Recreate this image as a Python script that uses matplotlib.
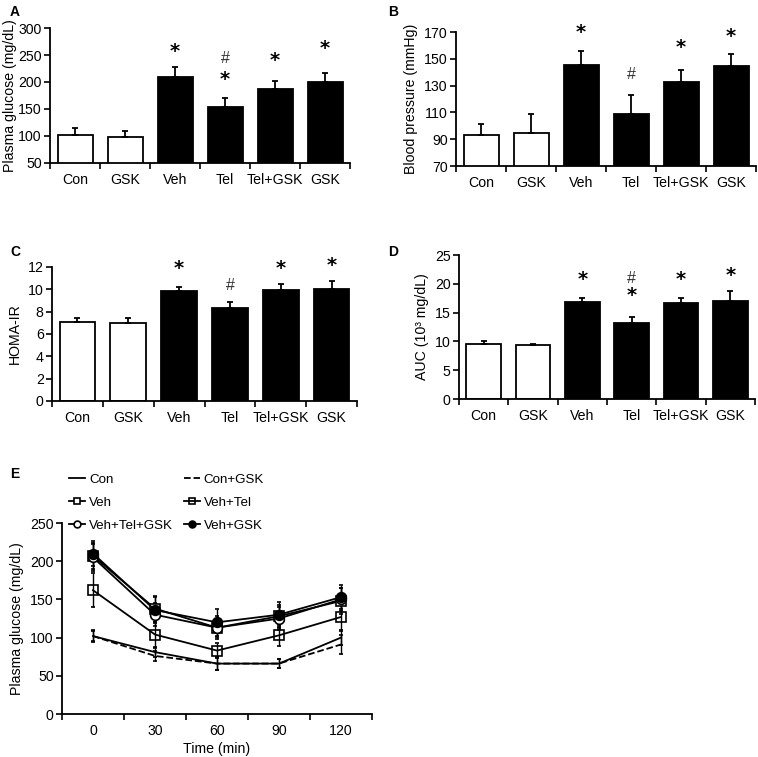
import matplotlib
matplotlib.use('Agg')
import matplotlib.pyplot as plt
import numpy as np

plt.rcParams['font.family'] = ['Liberation Sans', 'DejaVu Sans']
plt.rcParams['font.size'] = 10.2

groups = ['Con', 'GSK', 'Veh', 'Tel', 'Tel+GSK', 'GSK']
filled = [False, False, True, True, True, True]

# panel A - plasma glucose
glucose = [101, 98, 209, 153, 187, 200]
glucose_err = [13, 11, 19, 18, 14, 17]
glucose_sig = [(2, '*', 256), (3, '#', 244), (3, '*', 205), (4, '*', 240), (5, '*', 262)]

# panel B - blood pressure
bp = [93.4, 94.9, 145.1, 109.0, 132.7, 144.4]
bp_err = [8.2, 14.1, 10.7, 13.7, 9.2, 9.4]
bp_sig = [(2, '*', 169.5), (3, '#', 138.4), (4, '*', 158.3), (5, '*', 166.3)]

# panel C - HOMA-IR
homa = [7.1, 6.95, 9.82, 8.3, 9.95, 10.06]
homa_err = [0.33, 0.45, 0.4, 0.55, 0.55, 0.68]
homa_sig = [(2, '*', 11.85), (3, '#', 10.3), (4, '*', 11.85), (5, '*', 12.14)]

# panel D - AUC
auc = [9.55, 9.3, 16.8, 13.2, 16.6, 17.0]
auc_err = [0.5, 0.2, 0.7, 1.1, 1.0, 1.8]
auc_sig = [(2, '*', 20.8), (3, '#', 20.9), (3, '*', 17.9), (4, '*', 20.8), (5, '*', 21.5)]

# panel E - glucose tolerance curve
time = [0, 30, 60, 90, 120]
curve_names = ['Con', 'Con+GSK', 'Veh', 'Veh+Tel', 'Veh+Tel+GSK', 'Veh+GSK']
curve_vals = {
    'Con':         [102, 81, 66, 66, 100],
    'Con+GSK':     [102, 76, 66, 66, 91],
    'Veh':         [207, 138, 113, 128, 148],
    'Veh+Tel':     [162, 104, 83, 103, 127],
    'Veh+Tel+GSK': [205, 130, 113, 125, 150],
    'Veh+GSK':     [210, 136, 120, 130, 153],
}
curve_err = {
    'Con':         [8, 6, 8, 6, 10],
    'Con+GSK':     [6, 6, 8, 6, 12],
    'Veh':         [17, 17, 15, 15, 17],
    'Veh+Tel':     [22, 16, 10, 14, 18],
    'Veh+Tel+GSK': [18, 15, 12, 15, 15],
    'Veh+GSK':     [16, 17, 18, 16, 16],
}

fig = plt.figure(figsize=(7.58, 7.57), dpi=100)


def style_axes(ax):
    for s in ['top', 'right']:
        ax.spines[s].set_visible(False)
    for s in ['left', 'bottom']:
        ax.spines[s].set_linewidth(1.3)
    ax.tick_params(axis='y', direction='out', length=4, width=1.2, pad=2)


def bar_panel(rect, vals, errs, sig, ylim, yticks, ylabel, labelpad=4):
    ax = fig.add_axes(rect)
    x = np.arange(len(groups))
    colors = ['black' if f else 'white' for f in filled]
    ax.bar(x, vals, 0.7, color=colors, edgecolor='black', linewidth=1.3, zorder=2)
    ax.errorbar(x, vals, yerr=[np.zeros(len(errs)), errs], fmt='none',
                ecolor='black', elinewidth=1.3, capsize=2.5, capthick=1.3, zorder=3)
    for i, sym, y in sig:
        if sym == '*':
            ax.text(i, y, '*', ha='center', va='center', fontsize=14,
                    fontweight='bold', family='DejaVu Sans')
        else:
            ax.text(i, y, '#', ha='center', va='center', fontsize=11.5, color='#333333')
    ax.set_xlim(-0.5, len(groups) - 0.5)
    ax.set_ylim(*ylim)
    ax.set_yticks(yticks)
    ax.set_xticks(x)
    ax.set_xticklabels(groups)
    ax.set_xticks(np.arange(-0.5, len(groups)), minor=True)
    ax.tick_params(axis='x', which='major', length=0, pad=7)
    ax.tick_params(axis='x', which='minor', length=4, width=1.2, direction='out')
    ax.set_ylabel(ylabel, labelpad=labelpad)
    style_axes(ax)
    return ax


bar_panel([0.066, 0.7847, 0.3958, 0.1783], glucose, glucose_err, glucose_sig,
          (50, 300), np.arange(50, 301, 50), 'Plasma glucose (mg/dL)', labelpad=1)
bar_panel([0.6016, 0.7807, 0.3958, 0.177], bp, bp_err, bp_sig,
          (70, 170), np.arange(70, 171, 20), 'Blood pressure (mmHg)')
bar_panel([0.0686, 0.4703, 0.4024, 0.177], homa, homa_err, homa_sig,
          (0, 12), np.arange(0, 13, 2), 'HOMA-IR')
bar_panel([0.6055, 0.4729, 0.3905, 0.1902], auc, auc_err, auc_sig,
          (0, 25), np.arange(0, 26, 5), 'AUC (10³ mg/dL)')

# panel E
axe = fig.add_axes([0.0818, 0.0568, 0.409, 0.2523])
styles = {
    'Con':         dict(ls='-', marker=None),
    'Con+GSK':     dict(ls='--', marker=None),
    'Veh':         dict(ls='-', marker='s', mfc='white'),
    'Veh+Tel':     dict(ls='-', marker='s', mfc='none'),
    'Veh+Tel+GSK': dict(ls='-', marker='o', mfc='white'),
    'Veh+GSK':     dict(ls='-', marker='o', mfc='black'),
}
handles = {}
for name in curve_names:
    st = styles[name]
    eb = axe.errorbar(time, curve_vals[name], yerr=curve_err[name], color='black',
                      ls=st['ls'], marker=st['marker'], mfc=st.get('mfc', 'black'),
                      mec='black', ms=7, mew=1.2, lw=1.3, elinewidth=1.0,
                      capsize=1.5, capthick=1.0)
    handles[name] = eb.lines[0]
axe.set_xlim(-15, 135)
axe.set_ylim(0, 250)
axe.set_yticks(np.arange(0, 251, 50))
axe.set_xticks(time)
axe.set_xticks(np.arange(-15, 136, 30), minor=True)
axe.tick_params(axis='x', which='major', length=0, pad=7)
axe.tick_params(axis='x', which='minor', length=4, width=1.2, direction='out')
axe.set_xlabel('Time (min)', labelpad=3)
axe.set_ylabel('Plasma glucose (mg/dL)')
style_axes(axe)

order = ['Con', 'Veh', 'Veh+Tel+GSK', 'Con+GSK', 'Veh+Tel', 'Veh+GSK']
fig.legend([handles[n] for n in order], order, ncol=2, loc='upper left',
           bbox_to_anchor=(0.091, 0.3745), frameon=False, handlelength=1.2,
           handletextpad=0.3, columnspacing=0.8, labelspacing=0.8,
           borderpad=0, borderaxespad=0, markerscale=0.7, fontsize=9.6)

for lab, (x, y) in zip('ABCDE', [(10, 12), (388, 12), (10, 252), (388, 252), (10, 474)]):
    fig.text(x / 758, 1 - y / 757, lab, fontsize=10, fontweight='bold',
             ha='left', va='center')

fig.savefig('out.png', dpi=100)
